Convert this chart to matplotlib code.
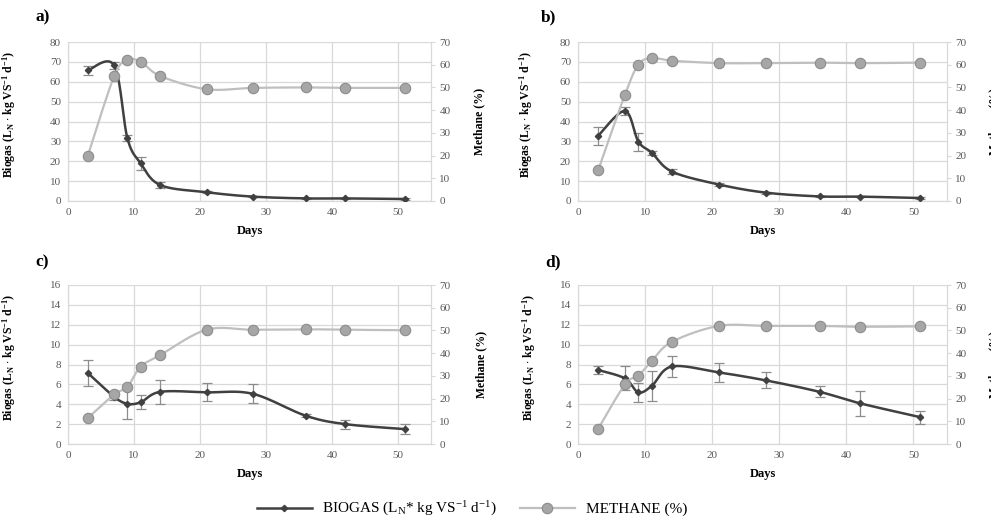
import numpy as np
import matplotlib
matplotlib.use("Agg")
import matplotlib.pyplot as plt
from matplotlib.lines import Line2D

plt.rcParams['font.family'] = ['Liberation Serif', 'DejaVu Serif']
plt.rcParams['mathtext.fontset'] = 'custom'
plt.rcParams['mathtext.rm'] = 'Liberation Serif'
plt.rcParams['mathtext.bf'] = 'Liberation Serif:bold'
plt.rcParams['mathtext.it'] = 'Liberation Serif:italic'

days = [3, 7, 9, 11, 14, 21, 28, 36, 42, 51]

biogas_a = [65.7, 68.2, 31.6, 19.0, 8.0, 4.4, 2.2, 1.3, 1.3, 1.0]
biogas_a_err = [2.4, 1.8, 1.5, 3.3, 1.5, 0.4, 0.4, 0.3, 0.3, 0.3]
methane_a = [19.9, 55.0, 62.0, 61.3, 55.0, 49.2, 49.8, 50.0, 49.8, 49.8]

biogas_b = [32.8, 45.3, 29.9, 24.3, 14.8, 8.3, 4.2, 2.3, 2.2, 1.5]
biogas_b_err = [4.5, 2.2, 4.5, 1.0, 1.3, 1.0, 0.5, 0.4, 0.4, 0.3]
methane_b = [13.5, 46.8, 60.0, 62.9, 61.8, 60.7, 60.7, 60.9, 60.7, 60.9]

biogas_c = [7.15, 4.75, 4.05, 4.2, 5.25, 5.2, 5.05, 2.85, 2.0, 1.5]
biogas_c_err = [1.35, 0.3, 1.5, 0.7, 1.2, 0.9, 0.95, 0.15, 0.45, 0.5]
methane_c = [11.4, 21.8, 25.2, 34.0, 39.2, 50.3, 50.3, 50.5, 50.3, 50.1]

biogas_d = [7.45, 6.6, 5.2, 5.85, 7.8, 7.2, 6.4, 5.25, 4.1, 2.7]
biogas_d_err = [0.4, 1.2, 0.95, 1.5, 1.05, 0.95, 0.8, 0.55, 1.25, 0.65]
methane_d = [6.7, 26.2, 30.1, 36.6, 45.0, 52.0, 52.0, 52.0, 51.6, 51.8]

panels = [
    ("a)", biogas_a, biogas_a_err, methane_a, 80, 10),
    ("b)", biogas_b, biogas_b_err, methane_b, 80, 10),
    ("c)", biogas_c, biogas_c_err, methane_c, 16, 2),
    ("d)", biogas_d, biogas_d_err, methane_d, 16, 2),
]

W, H = 991, 521
# pixel boxes: left, top, right, bottom
boxes = [(68, 42, 431, 201), (578, 42, 947, 201),
         (68, 285, 431, 444), (578, 285, 947, 444)]
panel_label_pos = [(35, 17), (541, 17), (35, 262), (545, 262)]
left_label_x = [18, 535, 18, 538]
right_label_x = [473, 988, 475, 988]

DARK = '#404040'
LIGHT = '#bfbfbf'
GRID = '#d9d9d9'
TICKC = '#595959'


def excel_smooth(x, y, n=40):
    pts = np.column_stack([x, y]).astype(float)
    m = len(pts)
    out = []
    for i in range(m - 1):
        p0 = pts[i - 1] if i > 0 else pts[i]
        p1 = pts[i]
        p2 = pts[i + 1]
        p3 = pts[i + 2] if i + 2 < m else pts[i + 1]
        c1 = p1 + (p2 - p0) / 6.0
        c2 = p2 - (p3 - p1) / 6.0
        t = np.linspace(0, 1, n)[:, None]
        seg = ((1 - t) ** 3) * p1 + 3 * ((1 - t) ** 2) * t * c1 + 3 * (1 - t) * t ** 2 * c2 + t ** 3 * p2
        out.append(seg if i == 0 else seg[1:])
    out = np.vstack(out)
    return out[:, 0], out[:, 1]


fig = plt.figure(figsize=(W / 100, H / 100), dpi=100)

for k, (lab, bg, bge, me, ymax, ystep) in enumerate(panels):
    l, t, r, b = boxes[k]
    ax = fig.add_axes([l / W, 1 - b / H, (r - l) / W, (b - t) / H])
    ax.set_xlim(0, 55)
    ax.set_ylim(0, ymax)
    ax.set_xticks(range(0, 51, 10))
    ax.set_yticks(np.arange(0, ymax + 0.1, ystep))
    ax.grid(True, color=GRID, linewidth=0.9)
    ax.set_axisbelow(True)
    for s in ['top', 'right']:
        ax.spines[s].set_visible(False)
    for s in ['left', 'bottom']:
        ax.spines[s].set_color(GRID)
        ax.spines[s].set_linewidth(0.9)
    ax.tick_params(axis='both', length=0, labelsize=8, labelcolor=TICKC, pad=5)

    sx, sy = excel_smooth(days, bg)
    ax.plot(sx, sy, color=DARK, linewidth=1.8, zorder=3)
    ax.errorbar(days, bg, yerr=bge, fmt='none', ecolor='#8c8c8c', elinewidth=0.9,
                capsize=3.5, capthick=0.9, zorder=2)
    ax.plot(days, bg, linestyle='none', marker='D', markersize=3.2, color=DARK, zorder=4)

    ax2 = ax.twinx()
    ax2.set_ylim(0, 70)
    ax2.set_yticks(range(0, 71, 10))
    for s in ['top', 'left', 'bottom']:
        ax2.spines[s].set_visible(False)
    ax2.spines['right'].set_color(GRID)
    ax2.spines['right'].set_linewidth(0.9)
    ax2.tick_params(axis='y', length=3, color=GRID, labelsize=8, labelcolor=TICKC, pad=3)
    mx, my = excel_smooth(days, me)
    ax2.plot(mx, my, color=LIGHT, linewidth=1.6, zorder=3)
    ax2.plot(days, me, linestyle='none', marker='o', markersize=7.5,
             markerfacecolor='#a6a6a6', markeredgecolor='#8c8c8c', markeredgewidth=0.8, zorder=4)

    ax.set_xlabel('Days', fontsize=9, fontweight='bold', labelpad=6)
    ax.set_ylabel(r'Biogas (L$_\mathbf{N}$ $\cdot$ kg VS$^\mathbf{-1}$ d$^\mathbf{-1}$)',
                  fontsize=8.5, fontweight='bold')
    ax.yaxis.set_label_coords((left_label_x[k] - l) / (r - l), 0.545)
    ax2.set_ylabel('Methane (%)', fontsize=8.5, fontweight='bold')
    ax2.yaxis.set_label_coords((right_label_x[k] - l) / (r - l), 0.5)

    px, py = panel_label_pos[k]
    fig.text(px / W, 1 - py / H, lab, fontsize=12.5, fontweight='bold', va='center', ha='left')

handles = [
    Line2D([], [], color=DARK, linewidth=1.8, marker='D', markersize=3.2),
    Line2D([], [], color=LIGHT, linewidth=1.6, marker='o', markersize=7.5,
           markerfacecolor='#a6a6a6', markeredgecolor='#8c8c8c', markeredgewidth=0.8),
]
labels = [r'BIOGAS (L$_\mathrm{N}$* kg VS$^{\mathrm{-1}}$ d$^{\mathrm{-1}}$)', 'METHANE (%)']
fig.legend(handles, labels, loc='center', bbox_to_anchor=(0.476, 1 - 509 / H), ncol=2,
           frameon=False, fontsize=11, handlelength=3.6, columnspacing=1.5, handletextpad=0.7)

fig.savefig('out.png', dpi=100, facecolor='white')
